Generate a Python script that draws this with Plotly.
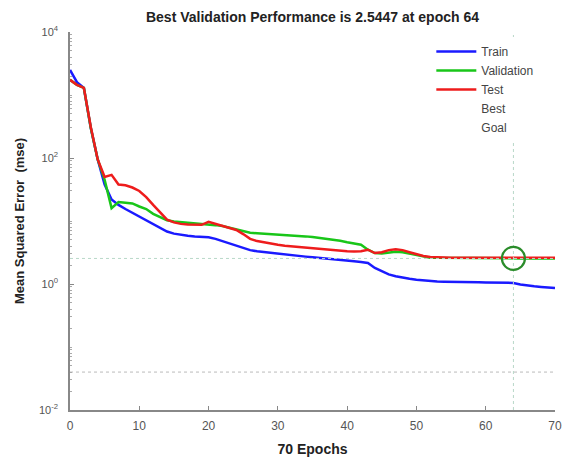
import plotly.graph_objects as go

epochs = list(range(0, 71))

train = [2500, 1600, 1300, 300, 95, 38, 22, 18, 15.5, 13.5, 11.8, 10.0, 8.8, 7.7, 6.8,
         6.3, 6.0, 5.85, 5.7, 5.6, 5.5, 5.2, 4.8, 4.4, 4.0, 3.7, 3.45, 3.3, 3.2, 3.1,
         3.05, 2.95, 2.88, 2.8, 2.72, 2.65, 2.6, 2.54, 2.48, 2.42, 2.36, 2.3, 2.24, 2.15, 1.8,
         1.6, 1.42, 1.33, 1.26, 1.21, 1.17, 1.14, 1.12, 1.1, 1.09, 1.09, 1.08, 1.08, 1.07, 1.07,
         1.06, 1.06, 1.05, 1.05, 1.04, 0.98, 0.94, 0.92, 0.9, 0.88, 0.86]

validation = [1740, 1450, 1300, 300, 95, 45, 16, 20, 19.5, 19, 17, 15.5, 13, 11.5, 10.3,
              9.8, 9.6, 9.4, 9.3, 9.2, 9.0, 8.6, 8.3, 7.8, 7.3, 6.8, 6.5, 6.4, 6.3, 6.2,
              6.1, 6.05, 6.0, 5.85, 5.7, 5.55, 5.4, 5.25, 5.05, 4.85, 4.6, 4.35, 4.2, 3.5, 3.1,
              3.05, 3.15, 3.25, 3.2, 3.05, 2.85, 2.7, 2.62, 2.6, 2.59, 2.58, 2.57, 2.57, 2.56, 2.56,
              2.56, 2.55, 2.55, 2.55, 2.5447, 2.55, 2.55, 2.55, 2.55, 2.55, 2.55]

test = [1740, 1450, 1300, 310, 95, 50, 54, 38, 37, 34, 30, 24, 18, 13.5, 10.5,
        9.5, 9.0, 8.8, 8.7, 8.7, 9.7, 9.0, 8.3, 7.8, 7.2, 6.2, 5.2, 4.8, 4.55, 4.35,
        4.2, 4.05, 3.95, 3.85, 3.75, 3.65, 3.55, 3.47, 3.4, 3.35, 3.3, 3.27, 3.3, 3.5, 3.1,
        3.2, 3.45, 3.55, 3.45, 3.2, 2.95, 2.78, 2.68, 2.64, 2.62, 2.61, 2.6, 2.6, 2.6, 2.6,
        2.6, 2.6, 2.6, 2.6, 2.6, 2.6, 2.6, 2.6, 2.6, 2.6, 2.6]

best_epoch = 64
best_perf = 2.5447
goal = 0.04
n_epochs = 70

y_tickvals = [1e-2, 1e0, 1e2, 1e4]
y_ticktext = ["10<sup>-2</sup>", "10<sup>0</sup>", "10<sup>2</sup>", "10<sup>4</sup>"]
x_tickvals = [0, 10, 20, 30, 40, 50, 60, 70]

minor_vals = []
for n in range(-2, 4):
    for k in range(1, 10):
        v = k * 10 ** n
        if v not in y_tickvals:
            minor_vals.append(v)

FONT = "Liberation Sans, Arial, sans-serif"

fig = go.Figure()
fig.add_trace(go.Scatter(x=epochs, y=train, mode="lines", name="Train",
                         line=dict(color="#1a1aff", width=2.5)))
fig.add_trace(go.Scatter(x=epochs, y=validation, mode="lines", name="Validation",
                         line=dict(color="#19c619", width=2.5)))
fig.add_trace(go.Scatter(x=epochs, y=test, mode="lines", name="Test",
                         line=dict(color="#ee1c1c", width=2.5)))
# best lines
fig.add_trace(go.Scatter(x=[0, n_epochs], y=[best_perf, best_perf], mode="lines",
                         showlegend=False, line=dict(color="#b8d8c8", width=1, dash="dot")))
fig.add_trace(go.Scatter(x=[best_epoch, best_epoch], y=[1e-2, 1e4], mode="lines",
                         showlegend=False, line=dict(color="#b8d8c8", width=1, dash="dot")))
fig.add_trace(go.Scatter(x=[0, n_epochs], y=[goal, goal], mode="lines",
                         showlegend=False, line=dict(color="#bbbbbb", width=1, dash="dot")))
# best marker
fig.add_trace(go.Scatter(x=[best_epoch], y=[best_perf], mode="markers", showlegend=False,
                         marker=dict(symbol="circle-open", size=23,
                                     color="#2a8c2a", line=dict(width=2.2, color="#2a8c2a"))))
# legend-only entries
fig.add_trace(go.Scatter(x=[None], y=[None], mode="lines", name="Best",
                         line=dict(color="rgba(0,0,0,0)", width=1)))
fig.add_trace(go.Scatter(x=[None], y=[None], mode="lines", name="Goal",
                         line=dict(color="rgba(0,0,0,0)", width=1)))

fig.update_layout(
    width=563, height=463,
    margin=dict(l=70, r=8, t=32, b=53, autoexpand=False),
    paper_bgcolor="white", plot_bgcolor="white",
    font=dict(family=FONT, color="#333333"),
    title=dict(text="<b>Best Validation Performance is 2.5447 at epoch 64</b>",
               x=0.5, xref="paper", xanchor="center", y=1, yref="container",
               yanchor="top", pad=dict(t=12),
               font=dict(size=14, color="#222222", family=FONT)),
    legend=dict(x=0.745, y=0.987, xanchor="left", yanchor="top",
                bgcolor="white", borderwidth=0, font=dict(size=12, color="#444444"),
                tracegroupgap=0, itemwidth=40),
    showlegend=True,
)
fig.update_xaxes(range=[0, n_epochs], tickvals=x_tickvals, ticks="inside", ticklen=4,
                 tickcolor="#888888", showline=True, linecolor="#888888", linewidth=1.5,
                 showgrid=False, zeroline=False, automargin=False, ticklabelstandoff=4,
                 tickfont=dict(size=12, color="#555555"),
                 title=dict(text="<b>70 Epochs</b>", font=dict(size=14, color="#222222"),
                            standoff=12))
fig.update_yaxes(type="log", range=[-2, 4], tickvals=y_tickvals, ticktext=y_ticktext,
                 ticks="inside", ticklen=4, tickcolor="#888888", showline=True,
                 linecolor="#888888", linewidth=1.5, showgrid=False, zeroline=False,
                 automargin=False, ticklabelstandoff=8,
                 tickfont=dict(size=11, color="#555555"),
                 minor=dict(tickvals=minor_vals, ticks="inside", ticklen=2,
                            tickcolor="#aaaaaa", showgrid=False),
                 title=dict(text="<b>Mean Squared Error  (mse)</b>",
                            font=dict(size=13, color="#222222"), standoff=11))

fig.write_html("out.html", config={"displayModeBar": False},
               post_script="document.body.style.margin='0px';")
